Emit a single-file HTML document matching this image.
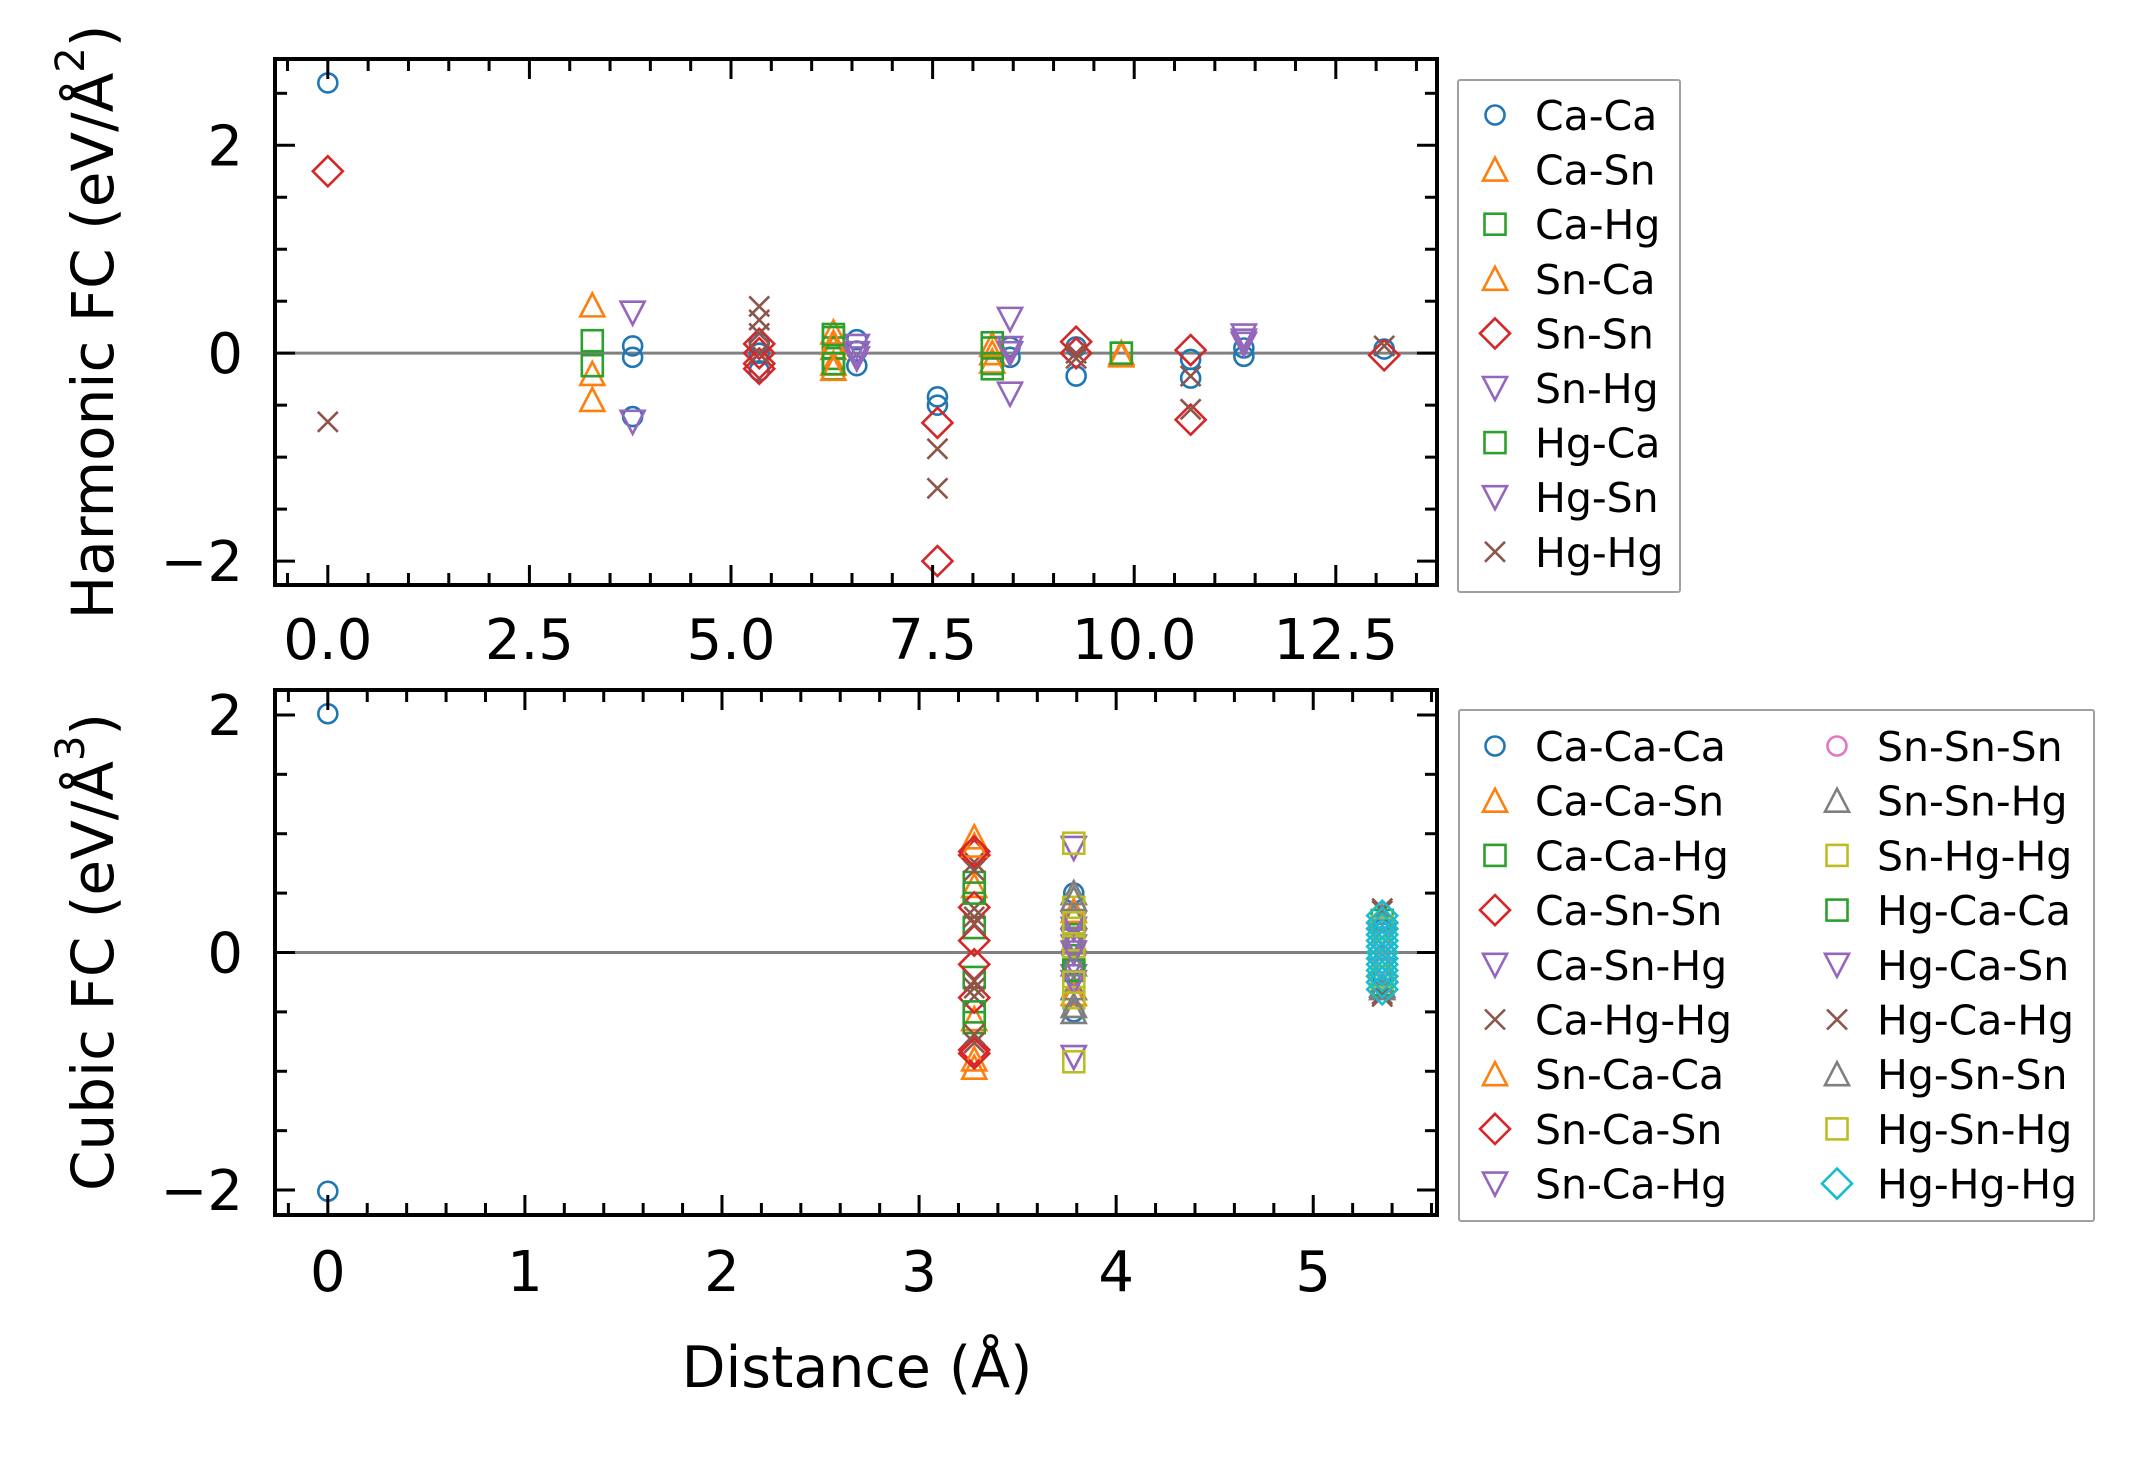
<!DOCTYPE html>
<html><head><meta charset="utf-8"><style>
html,body{margin:0;padding:0;background:#fff;}
svg{display:block;font-family:"DejaVu Sans","Liberation Sans",sans-serif;}
</style></head><body>
<svg id="fig" width="2154" height="1460" viewBox="0 0 2154 1460" xmlns="http://www.w3.org/2000/svg">
<rect width="2154" height="1460" fill="#fff"/>
<g id="top"></g>
<g id="bot"></g>
<text transform="translate(93,322) rotate(-90)" text-anchor="middle" dominant-baseline="central" font-size="58">Harmonic FC (eV/Å<tspan font-size="40" dy="-22">2</tspan><tspan dy="22">)</tspan></text>
<text transform="translate(93,952) rotate(-90)" text-anchor="middle" dominant-baseline="central" font-size="58">Cubic FC (eV/Å<tspan font-size="40" dy="-22">3</tspan><tspan dy="22">)</tspan></text>
<text x="857" y="1387" text-anchor="middle" font-size="57">Distance (Å)</text>
</svg>
<script>
// ---------- data: harmonic ----------
const harmNames = ["Ca-Ca","Ca-Sn","Ca-Hg","Sn-Ca","Sn-Sn","Sn-Hg","Hg-Ca","Hg-Sn","Hg-Hg"];
const harmCaCaX = [0,3.78,3.78,3.78,5.35,5.35,5.35,6.56,6.56,6.56,7.56,7.56,8.46,8.46,9.28,9.28,10.7,10.7,11.36,11.36,13.1];
const harmCaCaY = [2.6,0.07,-0.04,-0.61,0.1,0,-0.17,0.13,0.02,-0.12,-0.42,-0.5,0.06,-0.04,0.06,-0.22,-0.06,-0.24,0.05,-0.03,0.04];
const harmCaSnX = [3.28,3.28,3.28,6.27,6.27,6.27,8.24,8.24,9.84];
const harmCaSnY = [0.46,-0.2,-0.45,0.2,0.05,-0.1,0.08,-0.08,0];
const harmCaHgX = [3.28,3.28,6.27,6.27,6.27,6.27,8.24,8.24,9.84];
const harmCaHgY = [0.12,-0.12,0.15,0.05,-0.05,-0.15,0.05,-0.1,0];
const harmSnCaX = [6.27,6.27,8.24,9.84];
const harmSnCaY = [0.1,-0.15,0,-0.02];
const harmSnSnX = [0,5.35,5.35,5.35,5.35,7.56,7.56,9.28,9.28,10.7,10.7,13.1];
const harmSnSnY = [1.75,0.09,0,-0.1,-0.15,-0.67,-2.0,0.11,0,0.03,-0.64,-0.02];
const harmSnHgX = [3.78,3.78,6.56,6.56,8.46,8.46,8.46,11.36,11.36];
const harmSnHgY = [0.39,-0.66,0.07,-0.05,0.33,0.05,-0.39,0.17,0.09];
const harmHgCaX = [6.27,6.27,8.24,8.24,9.84];
const harmHgCaY = [0.18,-0.1,0.1,-0.15,0];
const harmHgSnX = [6.56,8.46,11.36];
const harmHgSnY = [0,0,0.12];
const harmHgHgX = [0,5.35,5.35,5.35,5.35,7.56,7.56,9.28,9.28,10.7,10.7,13.1];
const harmHgHgY = [-0.66,0.45,0.32,0.19,0,-0.92,-1.3,0,-0.05,-0.22,-0.54,0.07];
const harmXTicks = [0,2.5,5,7.5,10,12.5];
const harmXTickLabels = ["0.0","2.5","5.0","7.5","10.0","12.5"];
const harmYTicks = [-2,0,2];
const harmYTickLabels = ["−2","0","2"];

// ---------- data: cubic ----------
const cubNames = ["Ca-Ca-Ca","Ca-Ca-Sn","Ca-Ca-Hg","Ca-Sn-Sn","Ca-Sn-Hg","Ca-Hg-Hg","Sn-Ca-Ca","Sn-Ca-Sn","Sn-Ca-Hg","Sn-Sn-Sn","Sn-Sn-Hg","Sn-Hg-Hg","Hg-Ca-Ca","Hg-Ca-Sn","Hg-Ca-Hg","Hg-Sn-Sn","Hg-Sn-Hg","Hg-Hg-Hg"];
const cub01X = [0,0,3.785,3.785,3.785,3.785,5.35,5.35];
const cub01Y = [2.01,-2.01,0.5,-0.5,0.1,-0.1,0.2,-0.2];
const cub02X = [3.28,3.28,3.28,3.28,3.785,3.785,5.35,5.35];
const cub02Y = [0.97,0.56,-0.56,-0.97,0.35,-0.35,0.1,-0.1];
const cub03X = [3.28,3.28,3.28,3.28,3.785,3.785,5.35,5.35];
const cub03Y = [0.59,0.21,-0.21,-0.59,0.15,-0.15,0.27,-0.27];
const cub04X = [3.28,3.28,3.28,3.28,3.28,3.28,5.35,5.35];
const cub04Y = [0.82,0.38,0.1,-0.1,-0.38,-0.82,0.25,-0.25];
const cub05X = [3.785,3.785,3.785,3.785,5.35,5.35];
const cub05Y = [0.88,-0.88,0.2,-0.2,0.15,-0.15];
const cub06X = [3.28,3.28,3.28,3.28,3.28,3.28,3.28,3.28,5.35,5.35];
const cub06Y = [0.76,0.69,0.37,0.24,-0.24,-0.37,-0.69,-0.76,0.37,-0.37];
const cub07X = [3.28,3.28,3.785,3.785];
const cub07Y = [0.9,-0.9,0.3,-0.3];
const cub08X = [3.28,3.28,5.35,5.35];
const cub08Y = [0.85,-0.85,0.2,-0.2];
const cub09X = [3.785,3.785,3.785];
const cub09Y = [0.1,-0.1,0.05];
const cub10X = [5.35,5.35];
const cub10Y = [0.1,-0.1];
const cub11X = [3.785,3.785,3.785,3.785,3.785,3.785,5.35,5.35];
const cub11Y = [0.5,-0.5,0.3,-0.3,0.1,-0.1,0.3,-0.3];
const cub12X = [3.785,3.785,3.785,3.785,3.785,3.785,5.35,5.35];
const cub12Y = [0.92,0.38,0.05,-0.07,-0.38,-0.92,0.22,-0.22];
const cub13X = [3.28,3.28,3.785];
const cub13Y = [0.5,-0.5,-0.15];
const cub14X = [3.785,3.785,3.785];
const cub14Y = [0.25,-0.25,0];
const cub15X = [3.28,3.28,5.35,5.35];
const cub15Y = [0.3,-0.3,0.35,-0.35];
const cub16X = [3.785,3.785,5.35,5.35];
const cub16Y = [0.45,-0.45,0.28,-0.28];
const cub17X = [3.785,3.785,5.35,5.35];
const cub17Y = [0.25,-0.25,0.2,-0.2];
const cub18X = [5.35,5.35,5.35,5.35,5.35,5.35,5.35,5.35,5.35,5.35,5.35,5.35,5.35];
const cub18Y = [0.31,0.25,0.2,0.15,0.1,0.05,0,-0.05,-0.1,-0.15,-0.2,-0.25,-0.31];
const cubXTicks = [0,1,2,3,4,5];
const cubXTickLabels = ["0","1","2","3","4","5"];
const cubYTicks = [-2,0,2];
const cubYTickLabels = ["−2","0","2"];

const NS = "http://www.w3.org/2000/svg";
function mk(tag, attrs, parent){ const e=document.createElementNS(NS,tag); for(const k in attrs) e.setAttribute(k,attrs[k]); parent.appendChild(e); return e; }

function marker(shape, cx, cy, color, parent){
  let e;
  const sw = 2.6;
  if(shape==='o'){ e=mk('circle',{cx:cx,cy:cy,r:9.5,fill:'none',stroke:color,'stroke-width':sw},parent); }
  else if(shape==='^'){ e=mk('polygon',{points:`${cx},${cy-12} ${cx-12},${cy+11} ${cx+12},${cy+11}`,fill:'none',stroke:color,'stroke-width':sw},parent); }
  else if(shape==='v'){ e=mk('polygon',{points:`${cx},${cy+12} ${cx-12},${cy-11} ${cx+12},${cy-11}`,fill:'none',stroke:color,'stroke-width':sw},parent); }
  else if(shape==='s'){ e=mk('rect',{x:cx-10.5,y:cy-10.5,width:21,height:21,fill:'none',stroke:color,'stroke-width':sw},parent); }
  else if(shape==='D'){ e=mk('polygon',{points:`${cx},${cy-15} ${cx+15},${cy} ${cx},${cy+15} ${cx-15},${cy}`,fill:'none',stroke:color,'stroke-width':sw},parent); }
  else { e=mk('path',{d:`M${cx-10},${cy-10}L${cx+10},${cy+10}M${cx-10},${cy+10}L${cx+10},${cy-10}`,fill:'none',stroke:color,'stroke-width':sw},parent); }
  return e;
}

function panel(g, cfg){
  const {L,R,T,B,xmin,xmax,ymin,ymax} = cfg;
  const sx = v => L + (v - xmin)/(xmax - xmin)*(R-L);
  const sy = v => B - (v - ymin)/(ymax - ymin)*(B-T);
  const z = mk('line',{x1:L,x2:R,y1:sy(0),y2:sy(0),stroke:'#808080','stroke-width':3},g);
  
  
  cfg.series.forEach(s=>{
    const sg = mk('g',{},g);
    
    
    for(let i=0;i<s.x.length;i++){
      const m = marker(s.shape, sx(s.x[i]), sy(s.y[i]), s.color, sg);
      
      
    }
  });
  const tg = mk('g',{stroke:'#000','stroke-width':3},g);
  
  
  const eps=1e-9;
  for(let v=Math.ceil(xmin/cfg.xminor)*cfg.xminor; v<=xmax+eps; v+=cfg.xminor){
    const major = Math.abs(v/cfg.xmajor - Math.round(v/cfg.xmajor))<1e-6;
    const len = major?20:12, x=sx(v);
    mk('line',{x1:x,x2:x,y1:B,y2:B-len},tg); mk('line',{x1:x,x2:x,y1:T,y2:T+len},tg);
  }
  for(let v=Math.ceil(ymin/cfg.yminor)*cfg.yminor; v<=ymax+eps; v+=cfg.yminor){
    const major = Math.abs(v/cfg.ymajor - Math.round(v/cfg.ymajor))<1e-6;
    const len = major?20:12, y=sy(v);
    mk('line',{x1:L,x2:L+len,y1:y,y2:y},tg); mk('line',{x1:R,x2:R-len,y1:y,y2:y},tg);
  }
  cfg.xticks.forEach((v,i)=>{
    const t = mk('text',{x:sx(v),y:cfg.xlabY,'text-anchor':'middle','font-size':56},g);
    t.textContent = cfg.xlabels[i];
    
    
  });
  cfg.yticks.forEach((v,i)=>{
    const t = mk('text',{x:L-32,y:sy(v)+20,'text-anchor':'end','font-size':56},g);
    t.textContent = cfg.ylabels[i];
    
    
  });
  const f = mk('rect',{x:L,y:T,width:R-L,height:B-T,fill:'none',stroke:'#000','stroke-width':4},g);
  
  
  const lg = mk('g',{},g);
  
  
  const lb = cfg.legend;
  mk('rect',{x:lb.x,y:lb.y,width:lb.w,height:lb.h,fill:'#fff',stroke:'#a0a0a0','stroke-width':2,rx:2},lg);
  cfg.series.forEach((s,i)=>{
    const col = Math.floor(i/lb.rows), row = i%lb.rows;
    const mx = lb.mx + col*lb.colW, my = lb.y0 + row*lb.dy;
    const e = mk('g',{},lg);
    
    
    marker(s.shape, mx, my, s.color, e);
    const t = mk('text',{x:mx+40,y:my+15,'font-size':41},e);
    t.textContent = s.name;
  });
}

const C = ['#1f77b4','#ff7f0e','#2ca02c','#d62728','#9467bd','#8c564b','#e377c2','#7f7f7f','#bcbd22','#17becf'];

panel(document.getElementById('top'),{
  L:275,R:1437,T:59,B:585,xmin:-0.655,xmax:13.755,ymin:-2.23,ymax:2.83,
  xminor:0.5,xmajor:2.5,yminor:0.5,ymajor:2,
  xticks:harmXTicks,xlabels:harmXTickLabels,yticks:harmYTicks,ylabels:harmYTickLabels,xlabY:659,
  legend:{x:1458,y:80,w:222,h:512,mx:1495,y0:115,dy:54.6,rows:9,colW:0},
  series:[
    {name:harmNames[0],x:harmCaCaX,y:harmCaCaY,shape:'o',color:C[0]},
    {name:harmNames[1],x:harmCaSnX,y:harmCaSnY,shape:'^',color:C[1]},
    {name:harmNames[2],x:harmCaHgX,y:harmCaHgY,shape:'s',color:C[2]},
    {name:harmNames[3],x:harmSnCaX,y:harmSnCaY,shape:'^',color:C[1]},
    {name:harmNames[4],x:harmSnSnX,y:harmSnSnY,shape:'D',color:C[3]},
    {name:harmNames[5],x:harmSnHgX,y:harmSnHgY,shape:'v',color:C[4]},
    {name:harmNames[6],x:harmHgCaX,y:harmHgCaY,shape:'s',color:C[2]},
    {name:harmNames[7],x:harmHgSnX,y:harmHgSnY,shape:'v',color:C[4]},
    {name:harmNames[8],x:harmHgHgX,y:harmHgHgY,shape:'x',color:C[5]}
  ]
});

panel(document.getElementById('bot'),{
  L:275,R:1437,T:690,B:1215,xmin:-0.268,xmax:5.628,ymin:-2.21,ymax:2.21,
  xminor:0.2,xmajor:1,yminor:0.5,ymajor:2,
  xticks:cubXTicks,xlabels:cubXTickLabels,yticks:cubYTicks,ylabels:cubYTickLabels,xlabY:1291,
  legend:{x:1459,y:710,w:635,h:511,mx:1495,y0:746,dy:54.7,rows:9,colW:342},
  series:[
    {name:cubNames[0],x:cub01X,y:cub01Y,shape:'o',color:C[0]},
    {name:cubNames[1],x:cub02X,y:cub02Y,shape:'^',color:C[1]},
    {name:cubNames[2],x:cub03X,y:cub03Y,shape:'s',color:C[2]},
    {name:cubNames[3],x:cub04X,y:cub04Y,shape:'D',color:C[3]},
    {name:cubNames[4],x:cub05X,y:cub05Y,shape:'v',color:C[4]},
    {name:cubNames[5],x:cub06X,y:cub06Y,shape:'x',color:C[5]},
    {name:cubNames[6],x:cub07X,y:cub07Y,shape:'^',color:C[1]},
    {name:cubNames[7],x:cub08X,y:cub08Y,shape:'D',color:C[3]},
    {name:cubNames[8],x:cub09X,y:cub09Y,shape:'v',color:C[4]},
    {name:cubNames[9],x:cub10X,y:cub10Y,shape:'o',color:C[6]},
    {name:cubNames[10],x:cub11X,y:cub11Y,shape:'^',color:C[7]},
    {name:cubNames[11],x:cub12X,y:cub12Y,shape:'s',color:C[8]},
    {name:cubNames[12],x:cub13X,y:cub13Y,shape:'s',color:C[2]},
    {name:cubNames[13],x:cub14X,y:cub14Y,shape:'v',color:C[4]},
    {name:cubNames[14],x:cub15X,y:cub15Y,shape:'x',color:C[5]},
    {name:cubNames[15],x:cub16X,y:cub16Y,shape:'^',color:C[7]},
    {name:cubNames[16],x:cub17X,y:cub17Y,shape:'s',color:C[8]},
    {name:cubNames[17],x:cub18X,y:cub18Y,shape:'D',color:C[9]}
  ]
});
</script>
</body></html>
